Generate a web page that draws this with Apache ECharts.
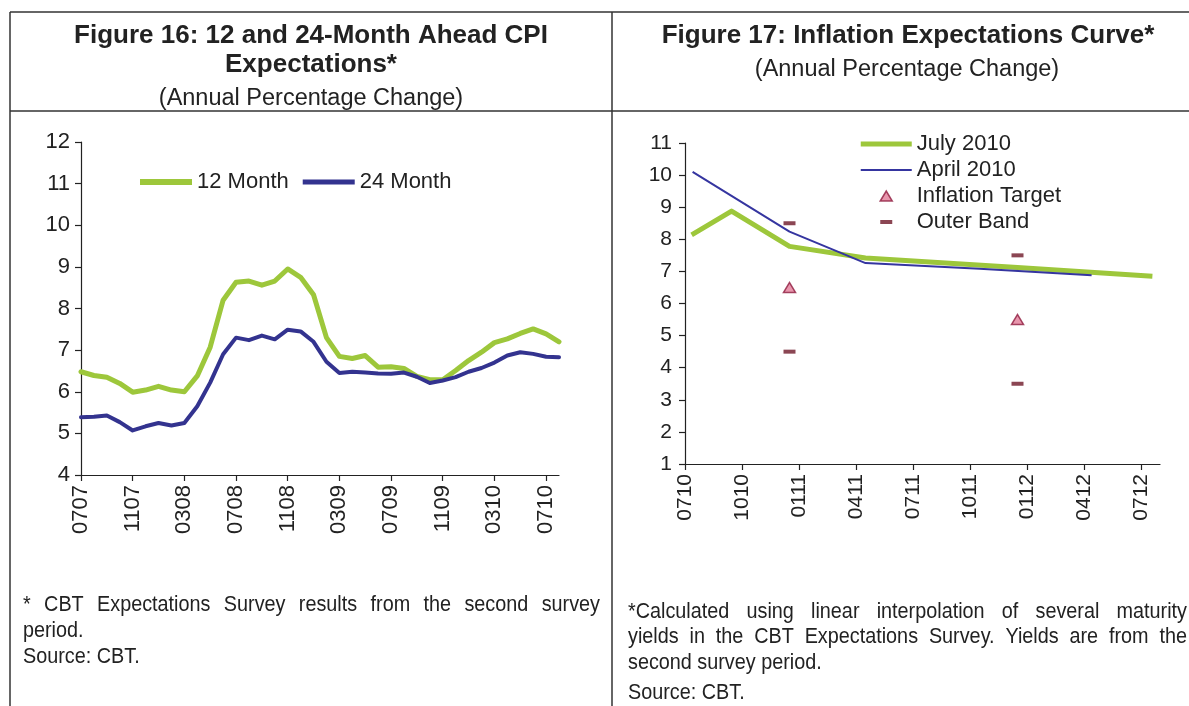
<!DOCTYPE html>
<html>
<head>
<meta charset="utf-8">
<title>CPI Expectations</title>
<script src="https://cdn.jsdelivr.net/npm/echarts@6/dist/echarts.min.js"></script>
<style>
  html, body { margin: 0; padding: 0; background: #fff; }
  #chart { width: 1189px; height: 706px; }
</style>
</head>
<body>
<div id="chart"></div>
<script>
// FIGURE 16 - monthly survey values (MMYY)
var months16 = ['0707','0807','0907','1007','1107','1207','0108','0208','0308','0408',
                '0508','0608','0708','0808','0908','1008','1108','1208','0109','0209',
                '0309','0409','0509','0609','0709','0809','0909','1009','1109','1209',
                '0110','0210','0310','0410','0510','0610','0710','0810'];
var expect12 = [6.48, 6.39, 6.35, 6.20, 5.99, 6.04, 6.13, 6.04, 6.00, 6.38,
                7.07, 8.20, 8.63, 8.66, 8.56, 8.66, 8.95, 8.75, 8.33, 7.30,
                6.85, 6.80, 6.87, 6.59, 6.60, 6.56, 6.37, 6.29, 6.29, 6.51,
                6.75, 6.95, 7.18, 7.27, 7.40, 7.51, 7.39, 7.20];
var expect24 = [5.39, 5.40, 5.43, 5.27, 5.07, 5.17, 5.25, 5.19, 5.25, 5.65,
                6.22, 6.90, 7.30, 7.24, 7.35, 7.26, 7.49, 7.45, 7.20, 6.72,
                6.45, 6.48, 6.46, 6.44, 6.43, 6.46, 6.36, 6.21, 6.27, 6.35,
                6.48, 6.57, 6.70, 6.87, 6.95, 6.91, 6.84, 6.83];

// FIGURE 17 - x is months after July 2010
var ticks17 = ['0710','1010','0111','0411','0711','1011','0112','0412','0712'];
var tickPos17 = [0, 3, 6, 9, 12, 15, 18, 21, 24];
var july2010 = [[0.35, 8.14], [2.45, 8.88], [5.5, 7.78], [9.5, 7.42], [17.5, 7.12], [24.6, 6.85]];
var april2010 = [[0.4, 10.1], [5.5, 8.24], [9.5, 7.26], [15.5, 7.08], [21.4, 6.88]];
var inflationTarget = [[5.5, 6.5], [17.5, 5.5]];
var outerBand = [[5.5, 8.5], [5.5, 4.5], [17.5, 7.5], [17.5, 3.5]];

var FONT = '"Liberation Sans", Arial, sans-serif';
var INK = '#222';
var GREEN = '#9DC73B';
var BLUE = '#33338F';
var BLUE2 = '#3535A0';
var PINK = '#E27C98';
var CRIMSON = '#8E1B3E';
var MAROON = '#6E1828';

// text helpers
var measureCtx = document.createElement('canvas').getContext('2d');

function textEl(text, x, y, size, bold, align) {
	return {
		type: 'text', x: x, y: y, silent: true,
		style: {
			text: text, font: (bold ? 'bold ' : '') + size + 'px ' + FONT,
			fill: INK, textAlign: align || 'center', textVerticalAlign: 'middle', verticalAlign: 'middle'
		}
	};
}

// footnotes are condensed and justified in the original
function noteLine(text, x0, x1, y, justify) {
	var sx = 0.9;
	var font = '22px ' + FONT;
	measureCtx.font = font;
	var words = text.split(' ');
	var widths = words.map(function (w) { return measureCtx.measureText(w).width * sx; });
	var total = widths.reduce(function (a, b) { return a + b; }, 0);
	var gap = (justify && words.length > 1) ? (x1 - x0 - total) / (words.length - 1)
		: measureCtx.measureText(' ').width * sx;
	var x = x0;
	var els = [];
	words.forEach(function (w, i) {
		els.push({
			type: 'text', x: x, y: y, scaleX: sx, silent: true,
			style: { text: w, font: font, fill: INK, textVerticalAlign: 'middle', verticalAlign: 'middle' }
		});
		x += widths[i] + gap;
	});
	return els;
}

function rule(x1, y1, x2, y2) {
	return { type: 'line', silent: true, shape: { x1: x1, y1: y1, x2: x2, y2: y2 },
		style: { stroke: '#333', lineWidth: 1.5 } };
}

var graphics = [
	rule(10, 12, 1189, 12), rule(10, 111, 1189, 111),
	rule(10, 12, 10, 706), rule(612, 12, 612, 706),
	textEl('Figure 16: 12 and 24-Month Ahead CPI', 311, 36, 26, true),
	textEl('Expectations*', 311, 65, 26, true),
	textEl('(Annual Percentage Change)', 311, 99, 23.5, false),
	textEl('Figure 17: Inflation Expectations Curve*', 908, 36, 26, true),
	textEl('(Annual Percentage Change)', 907, 70, 23.5, false)
];
graphics = graphics
	.concat(noteLine('* CBT Expectations Survey results from the second survey', 23, 600, 605, true))
	.concat(noteLine('period.', 23, 600, 631, false))
	.concat(noteLine('Source: CBT.', 23, 600, 657, false))
	.concat(noteLine('*Calculated using linear interpolation of several maturity', 628, 1187, 612, true))
	.concat(noteLine('yields in the CBT Expectations Survey. Yields are from the', 628, 1187, 637, true))
	.concat(noteLine('second survey period.', 628, 1187, 663, false))
	.concat(noteLine('Source: CBT.', 628, 1187, 693, false));

var axisLine = { lineStyle: { color: INK, width: 1.2 } };
var axisTick = { length: 6, lineStyle: { color: INK, width: 1.2 } };
var labelLeft = { color: INK, fontSize: 22, fontFamily: FONT };
var labelRight = { color: INK, fontSize: 21, fontFamily: FONT };

// legend icons (leading M's fix the box so the marks keep their size)
var thickIconL = 'path://M0,0L52,0L52,6L0,6Z';
var mediumIconL = 'path://M0,0L52,0L52,5L0,5Z';
var thickIconR = 'path://M0,0M51,12M0,3.5L51,3.5L51,8.5L0,8.5Z';
var thinIconR = 'path://M0,0M51,12M0,5L51,5L51,7L0,7Z';
var triIcon = 'path://M0,0M51,12M19.5,11L25.5,1L31.5,11Z';
var dashIcon = 'path://M0,0M51,12M19.5,4L31.5,4L31.5,8L19.5,8Z';

var myChart = echarts.init(document.getElementById('chart'), null, { renderer: 'canvas' });

var option = {
	animation: false,
	backgroundColor: '#fff',
	graphic: graphics,
	grid: [
		{ left: 81, top: 142, width: 478, height: 333 },
		{ left: 685, top: 143, width: 475, height: 321 }
	],
	legend: [
		{
			left: 135, top: 166, itemWidth: 52, itemHeight: 6, itemGap: 14,
			selectedMode: false,
			textStyle: { color: INK, fontSize: 22, fontFamily: FONT },
			data: [
				{ name: '12 Month', icon: thickIconL, itemStyle: { color: GREEN } },
				{ name: '24 Month', icon: mediumIconL, itemStyle: { color: BLUE } }
			]
		},
		{
			orient: 'vertical', left: 855, top: 128, itemWidth: 51, itemHeight: 12, itemGap: 4,
			selectedMode: false,
			textStyle: { color: INK, fontSize: 22, fontFamily: FONT },
			data: [
				{ name: 'July 2010', icon: thickIconR, itemStyle: { color: GREEN } },
				{ name: 'April 2010', icon: thinIconR, itemStyle: { color: BLUE2 } },
				{ name: 'Inflation Target', icon: triIcon,
				  itemStyle: { color: PINK, borderColor: CRIMSON, borderWidth: 1.5 } },
				{ name: 'Outer Band', icon: dashIcon,
				  itemStyle: { color: MAROON, borderWidth: 0 } }
			]
		}
	],
	xAxis: [
		{
			type: 'category', gridIndex: 0, data: months16, boundaryGap: false,
			axisLine: axisLine,
			axisTick: Object.assign({ interval: 3 }, axisTick),
			axisLabel: Object.assign({ interval: 3, rotate: 90, margin: 10 }, labelLeft),
			splitLine: { show: false }
		},
		{
			type: 'value', gridIndex: 1, min: 0, max: 25,
			axisLine: axisLine,
			axisTick: Object.assign({ customValues: tickPos17 }, axisTick),
			axisLabel: Object.assign({
				customValues: tickPos17, rotate: 90, margin: 10,
				formatter: function (v) {
					var i = tickPos17.indexOf(v);
					return i >= 0 ? ticks17[i] : '';
				}
			}, labelRight),
			splitLine: { show: false }
		}
	],
	yAxis: [
		{
			type: 'value', gridIndex: 0, min: 4, max: 12, interval: 1,
			axisLine: Object.assign({ show: true }, axisLine), axisTick: Object.assign({ show: true }, axisTick),
			axisLabel: Object.assign({ margin: 11 }, labelLeft),
			splitLine: { show: false }
		},
		{
			type: 'value', gridIndex: 1, min: 1, max: 11, interval: 1,
			axisLine: Object.assign({ show: true }, axisLine), axisTick: Object.assign({ show: true }, axisTick),
			axisLabel: Object.assign({ margin: 13 }, labelRight),
			splitLine: { show: false }
		}
	],
	series: [
		{
			name: '12 Month', type: 'line', xAxisIndex: 0, yAxisIndex: 0,
			data: expect12, symbol: 'none', color: GREEN,
			lineStyle: { color: GREEN, width: 5, cap: 'round', join: 'round' }
		},
		{
			name: '24 Month', type: 'line', xAxisIndex: 0, yAxisIndex: 0,
			data: expect24, symbol: 'none', color: BLUE,
			lineStyle: { color: BLUE, width: 4, cap: 'round', join: 'round' }
		},
		{
			name: 'July 2010', type: 'line', xAxisIndex: 1, yAxisIndex: 1,
			data: july2010, symbol: 'none', color: GREEN,
			lineStyle: { color: GREEN, width: 5, join: 'round' }
		},
		{
			name: 'April 2010', type: 'line', xAxisIndex: 1, yAxisIndex: 1,
			data: april2010, symbol: 'none', color: BLUE2,
			lineStyle: { color: BLUE2, width: 2 }
		},
		{
			name: 'Inflation Target', type: 'scatter', xAxisIndex: 1, yAxisIndex: 1,
			data: inflationTarget, symbol: 'triangle', symbolSize: [12, 10],
			itemStyle: { color: PINK, borderColor: CRIMSON, borderWidth: 1.5 }
		},
		{
			name: 'Outer Band', type: 'scatter', xAxisIndex: 1, yAxisIndex: 1,
			data: outerBand, symbol: 'rect', symbolSize: [12, 4],
			itemStyle: { color: MAROON }
		}
	]
};

myChart.setOption(option);
</script>
</body>
</html>
